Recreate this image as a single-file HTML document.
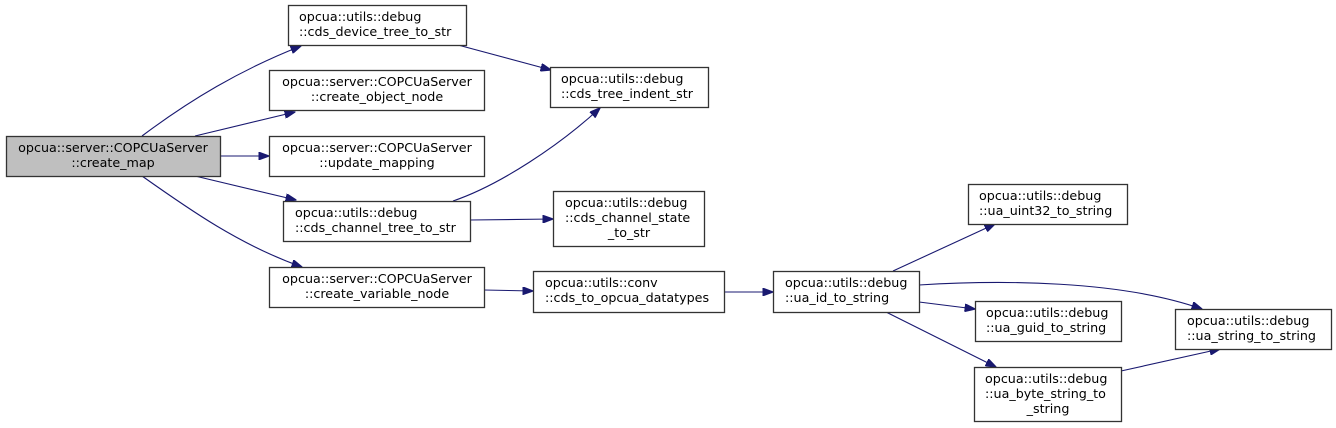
<!DOCTYPE html>
<html><head><meta charset="utf-8"><style>
html,body{margin:0;padding:0;background:#fff;width:1336px;height:428px;overflow:hidden}
svg text{font-family:"DejaVu Sans","Liberation Sans",sans-serif;font-size:12.7px;fill:#000}
</style></head><body>
<svg width="1336" height="428" viewBox="0 0 1336 428" xmlns="http://www.w3.org/2000/svg">
<defs><marker id="a" markerWidth="11" markerHeight="8" refX="10.5" refY="4" orient="auto" markerUnits="userSpaceOnUse"><path d="M0,0 L11,4 L0,8 Z" fill="#191970" stroke="#191970"/></marker></defs>
<g fill="none" stroke="#191970" stroke-width="1.1" marker-end="url(#a)">
<path d="M142,136 C190,100 240,70 301,46"/>
<path d="M195,136 L295,112"/>
<path d="M220,156 L269,156"/>
<path d="M195,176 L296,200"/>
<path d="M142,176 C190,210 240,245 302,267"/>
<path d="M458,45 L551,70"/>
<path d="M453,201 C500,185 560,145 600,108"/>
<path d="M470,220 L553,219"/>
<path d="M484,290 L533,291"/>
<path d="M724,292 L773,292"/>
<path d="M893,271 L995,224"/>
<path d="M919,285 C1000,280 1120,280 1202,309"/>
<path d="M919,302 L975,309"/>
<path d="M886,312 L996,367"/>
<path d="M1121,371 L1220,349"/>
</g>
<g stroke="#333" stroke-width="1.3">
<rect x="6.5" y="136.5" width="214" height="40" fill="#bfbfbf"/>
<rect x="288.5" y="5.5" width="178" height="40" fill="#fff"/>
<rect x="269.5" y="70.5" width="215" height="40" fill="#fff"/>
<rect x="269.5" y="136.5" width="215" height="40" fill="#fff"/>
<rect x="283.5" y="201.5" width="187" height="40" fill="#fff"/>
<rect x="269.5" y="267.5" width="215" height="40" fill="#fff"/>
<rect x="550.5" y="67.5" width="158" height="40" fill="#fff"/>
<rect x="553.5" y="191.5" width="151" height="55" fill="#fff"/>
<rect x="533.5" y="271.5" width="191" height="41" fill="#fff"/>
<rect x="773.5" y="271.5" width="146" height="41" fill="#fff"/>
<rect x="968.5" y="184.5" width="159" height="40" fill="#fff"/>
<rect x="975.5" y="301.5" width="146" height="40" fill="#fff"/>
<rect x="974.5" y="367.5" width="147" height="54" fill="#fff"/>
<rect x="1175.5" y="309.5" width="156" height="40" fill="#fff"/>
</g>
<g>
<text x="113" y="152" text-anchor="middle">opcua::server::COPCUaServer</text>
<text x="113" y="167" text-anchor="middle">::create_map</text>
<text x="299" y="21">opcua::utils::debug</text>
<text x="299" y="36">::cds_device_tree_to_str</text>
<text x="377" y="86" text-anchor="middle">opcua::server::COPCUaServer</text>
<text x="377" y="101" text-anchor="middle">::create_object_node</text>
<text x="377" y="152" text-anchor="middle">opcua::server::COPCUaServer</text>
<text x="377" y="167" text-anchor="middle">::update_mapping</text>
<text x="295" y="217">opcua::utils::debug</text>
<text x="295" y="232">::cds_channel_tree_to_str</text>
<text x="377" y="283" text-anchor="middle">opcua::server::COPCUaServer</text>
<text x="377" y="298" text-anchor="middle">::create_variable_node</text>
<text x="561" y="83">opcua::utils::debug</text>
<text x="561" y="98">::cds_tree_indent_str</text>
<text x="565" y="207">opcua::utils::debug</text>
<text x="565" y="222">::cds_channel_state</text>
<text x="629" y="237" text-anchor="middle">_to_str</text>
<text x="545" y="287">opcua::utils::conv</text>
<text x="545" y="302">::cds_to_opcua_datatypes</text>
<text x="785" y="287">opcua::utils::debug</text>
<text x="785" y="302">::ua_id_to_string</text>
<text x="979" y="200">opcua::utils::debug</text>
<text x="979" y="215">::ua_uint32_to_string</text>
<text x="986" y="317">opcua::utils::debug</text>
<text x="986" y="332">::ua_guid_to_string</text>
<text x="985" y="383">opcua::utils::debug</text>
<text x="985" y="398">::ua_byte_string_to</text>
<text x="1048" y="413" text-anchor="middle">_string</text>
<text x="1187" y="325">opcua::utils::debug</text>
<text x="1187" y="340">::ua_string_to_string</text>
</g>
</svg>
</body></html>
